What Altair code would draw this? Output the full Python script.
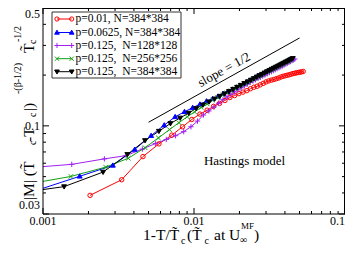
import altair as alt
import pandas as pd

# ---------------- data ----------------
series = ["p=0.01, N=384*384", "p=0.0625, N=384*384", "p=0.125,\u00a0\u00a0N=128*128",
          "p=0.125,\u00a0\u00a0N=256*256", "p=0.125,\u00a0\u00a0N=384*384"]
colors = ["#ff0000", "#0000ff", "#a020f0", "#10a010", "#000000"]
fills = ["transparent", "#0000ff", "#a020f0", "#10a010", "#000000"]
shapes = ["circle", "M0,-1.1L1.1,0.8L-1.1,0.8Z", "M-1.2,0L1.2,0M0,-1.2L0,1.2",
          "M-1,-1L1,1M-1,1L1,-1", "M0,1.1L1.1,-0.8L-1.1,-0.8Z"]

red_x = [0.00205, 0.00332, 0.00459, 0.00586, 0.00713, 0.0084, 0.00967, 0.01094, 0.01221, 0.01348,
         0.01475, 0.01602, 0.01729, 0.01856, 0.01983, 0.0211, 0.02237, 0.02364, 0.02491, 0.02618,
         0.02745, 0.02872, 0.02999, 0.03126, 0.03253, 0.0338, 0.03507, 0.03634, 0.03761, 0.03888,
         0.04015, 0.04142, 0.04269, 0.04396, 0.04523, 0.0465, 0.04777, 0.04904, 0.05031, 0.05158, 0.05285]
red_y = [0.0387, 0.0479, 0.0657, 0.0782, 0.0881, 0.0987, 0.1091, 0.1174, 0.1238, 0.1305,
         0.1359, 0.1414, 0.1472, 0.1512, 0.1553, 0.1585, 0.1617, 0.1660, 0.1694, 0.1717,
         0.1751, 0.1786, 0.1822, 0.1847, 0.1867, 0.1884, 0.1904, 0.1922, 0.1948, 0.1967,
         0.1982, 0.1995, 0.2009, 0.2025, 0.2041, 0.2052, 0.2063, 0.2074, 0.2082, 0.2091, 0.2102]

blue_x = [0.0006, 0.00175, 0.0029, 0.00405, 0.0052, 0.00635, 0.0075, 0.00865, 0.0098, 0.01095,
          0.0121, 0.01325, 0.0144, 0.01555, 0.0167, 0.01785, 0.019, 0.02015, 0.0213, 0.02245,
          0.0236, 0.02475, 0.0259, 0.02705, 0.0282, 0.02935, 0.0305, 0.03165, 0.0328, 0.03395,
          0.0351, 0.03625, 0.0374, 0.03855, 0.0397, 0.04085, 0.042, 0.04315, 0.0443]
blue_y = [0.0367, 0.0502, 0.0583, 0.0724, 0.0875, 0.1010, 0.1131, 0.1212, 0.1282, 0.1343,
          0.1402, 0.1445, 0.1496, 0.1549, 0.1593, 0.1638, 0.1684, 0.1732, 0.1777, 0.1820,
          0.1864, 0.1904, 0.1945, 0.1985, 0.2022, 0.2060, 0.2099, 0.2136, 0.2170, 0.2205,
          0.2240, 0.2274, 0.2307, 0.2341, 0.2373, 0.2405, 0.2434, 0.2466, 0.2496]

purple_x = [0.00055, 0.00155, 0.00255, 0.00355, 0.00455, 0.00555, 0.00655, 0.00755, 0.00855, 0.00955,
            0.01055, 0.01155, 0.01255, 0.01355, 0.01455, 0.01555, 0.01655, 0.01755, 0.01855, 0.01955,
            0.02055, 0.02155, 0.02255, 0.02355, 0.02455, 0.02555, 0.02655, 0.02755, 0.02855, 0.02955,
            0.03055, 0.03155, 0.03255, 0.03355, 0.03455, 0.03555, 0.03655, 0.03755, 0.03855, 0.03955,
            0.04055, 0.04155, 0.04255, 0.04355, 0.04455, 0.04555, 0.04655]
purple_y = [0.0549, 0.0591, 0.0637, 0.0666, 0.0728, 0.0785, 0.0830, 0.0874, 0.0924, 0.0988,
            0.1067, 0.1160, 0.1226, 0.1292, 0.1361, 0.1430, 0.1486, 0.1538, 0.1589, 0.1634,
            0.1680, 0.1725, 0.1769, 0.1812, 0.1846, 0.1879, 0.1912, 0.1945, 0.1977, 0.2006,
            0.2036, 0.2069, 0.2096, 0.2127, 0.2156, 0.2185, 0.2211, 0.2238, 0.2268, 0.2298,
            0.2326, 0.2354, 0.2382, 0.2408, 0.2437, 0.2463, 0.2490]

green_x = [0.00046, 0.00153, 0.0026, 0.00367, 0.00474, 0.00581, 0.00688, 0.00795, 0.00902, 0.01009,
           0.01116, 0.01223, 0.0133, 0.01437, 0.01544, 0.01651, 0.01758, 0.01865, 0.01972, 0.02079,
           0.02186, 0.02293, 0.024, 0.02507, 0.02614, 0.02721, 0.02828, 0.02935, 0.03042, 0.03149,
           0.03256, 0.03363, 0.0347, 0.03577, 0.03684, 0.03791, 0.03898, 0.04005, 0.04112, 0.04219,
           0.04326, 0.04433]
green_y = [0.0414, 0.0501, 0.0569, 0.0642, 0.0742, 0.0848, 0.0950, 0.1044, 0.1132, 0.1210,
           0.1286, 0.1348, 0.1420, 0.1472, 0.1522, 0.1570, 0.1617, 0.1660, 0.1705, 0.1746,
           0.1786, 0.1827, 0.1864, 0.1904, 0.1940, 0.1977, 0.2014, 0.2046, 0.2082, 0.2116,
           0.2148, 0.2182, 0.2214, 0.2244, 0.2274, 0.2305, 0.2336, 0.2363, 0.2395, 0.2424,
           0.2450, 0.2480]

black_x = [0.00026, 0.00138, 0.0025, 0.00362, 0.00474, 0.00586, 0.00698, 0.0081, 0.00922, 0.01034,
           0.01146, 0.01258, 0.0137, 0.01482, 0.01594, 0.01706, 0.01818, 0.0193, 0.02042, 0.02154,
           0.02266, 0.02378, 0.0249, 0.02602, 0.02714, 0.02826, 0.02938, 0.0305, 0.03162, 0.03274,
           0.03386, 0.03498, 0.0361, 0.03722, 0.03834, 0.03946, 0.04058, 0.0417, 0.04282, 0.04394, 0.04506]
black_y = [0.0354, 0.0436, 0.0532, 0.0677, 0.0819, 0.0930, 0.1033, 0.1114, 0.1191, 0.1268,
           0.1332, 0.1390, 0.1447, 0.1500, 0.1551, 0.1601, 0.1649, 0.1696, 0.1742, 0.1786,
           0.1827, 0.1869, 0.1909, 0.1951, 0.1990, 0.2025, 0.2063, 0.2099, 0.2133, 0.2170,
           0.2202, 0.2235, 0.2268, 0.2301, 0.2332, 0.2363, 0.2395, 0.2424, 0.2456, 0.2486, 0.2513]

x_major = [0.001, 0.01, 0.1]
x_major_labels = ["0.001", "0.01", "0.1"]
x_minor = [0.002, 0.003, 0.004, 0.005, 0.006, 0.007, 0.008, 0.009,
           0.02, 0.03, 0.04, 0.05, 0.06, 0.07, 0.08, 0.09]
y_major = [0.03, 0.1, 0.5]
y_major_labels = ["0.03", "0.1", "0.5"]
y_minor = [0.04, 0.05, 0.06, 0.07, 0.08, 0.09, 0.2, 0.3, 0.4]

slope_x = [0.005, 0.05]
slope_y = [0.105, 0.332]

# ---------------- build tables ----------------
rows = []
for name, xs, ys in zip(series, [red_x, blue_x, purple_x, green_x, black_x],
                        [red_y, blue_y, purple_y, green_y, black_y]):
    for a, b in zip(xs, ys):
        rows.append({"series": name, "x": a, "y": b})
df = pd.DataFrame(rows)
legend_df = pd.DataFrame({"series": series})
dummy = pd.DataFrame({"d": [0]})
xlab_df = pd.DataFrame({"x": x_major, "t": x_major_labels})
ylab_df = pd.DataFrame({"y": y_major, "t": y_major_labels})

SERIF = "Liberation Serif"
W, H = 302, 206

xsc = alt.Scale(type="log", domain=[0.001, 0.1], nice=False)
ysc = alt.Scale(type="log", domain=[0.03, 0.5], nice=False)
stroke_sc = alt.Scale(domain=series, range=colors)
fill_sc = alt.Scale(domain=series, range=fills)
shape_sc = alt.Scale(domain=series, range=shapes)


def X(f="x"):
    return alt.X(f"{f}:Q", scale=xsc, axis=None)


def Y(f="y"):
    return alt.Y(f"{f}:Q", scale=ysc, axis=None)


lines = alt.Chart(df).mark_line(strokeWidth=1, clip=True).encode(
    x=X(), y=Y(),
    stroke=alt.Stroke("series:N", scale=stroke_sc, legend=None),
)
points = alt.Chart(df).mark_point(size=20, strokeWidth=1, opacity=1, clip=True).encode(
    x=X(), y=Y(),
    stroke=alt.Stroke("series:N", scale=stroke_sc, legend=None),
    fill=alt.Fill("series:N", scale=fill_sc, legend=None),
    shape=alt.Shape("series:N", scale=shape_sc, legend=None),
)

# frame
frame = [
    alt.Chart(dummy).mark_rule(color="black", strokeWidth=1).encode(
        x=alt.value(0), x2=alt.value(W), y=alt.value(0.5)),
    alt.Chart(dummy).mark_rule(color="black", strokeWidth=1).encode(
        x=alt.value(0), x2=alt.value(W), y=alt.value(H)),
    alt.Chart(dummy).mark_rule(color="black", strokeWidth=1).encode(
        x=alt.value(0), y=alt.value(0), y2=alt.value(H)),
    alt.Chart(dummy).mark_rule(color="black", strokeWidth=1).encode(
        x=alt.value(W - 0.5), y=alt.value(0), y2=alt.value(H)),
]


def xticks(vals, y0, y1):
    return alt.Chart(pd.DataFrame({"x": vals})).mark_rule(color="black", strokeWidth=1).encode(
        x=X(), y=alt.value(y0), y2=alt.value(y1))


def yticks(vals, x0, x1):
    return alt.Chart(pd.DataFrame({"y": vals})).mark_rule(color="black", strokeWidth=1).encode(
        y=Y(), x=alt.value(x0), x2=alt.value(x1))


ticks = [xticks(x_major, H, H - 6), xticks(x_minor, H, H - 3),
         xticks(x_major, 0, 6), xticks(x_minor, 0, 3),
         yticks(y_major, 0, 6), yticks(y_minor, 0, 3),
         yticks(y_major, W, W - 6), yticks(y_minor, W, W - 3)]

# tick labels, placed through the scales
x_labels = [
    alt.Chart(xlab_df).transform_filter(alt.datum.x == v).mark_text(
        font=SERIF, fontSize=12, color="black", baseline="top", align=al).encode(
        x=X(), y=alt.value(H + 2), text="t:N")
    for v, al in zip(x_major, ["center", "center", "right"])
]
y_labels = [
    alt.Chart(ylab_df).transform_filter(alt.datum.y == v).mark_text(
        font=SERIF, fontSize=12, color="black", align="right", baseline="middle", dy=d).encode(
        y=Y(), x=alt.value(-3), text="t:N")
    for v, d in zip(y_major, [-9, 0, 6])
]

slope = alt.Chart(pd.DataFrame({"x": [slope_x[0]], "x2": [slope_x[1]],
                                "y": [slope_y[0]], "y2": [slope_y[1]]})).mark_rule(
    color="black", strokeWidth=1).encode(x=X(), x2="x2:Q", y=Y(), y2="y2:Q")

notes = alt.Chart(pd.DataFrame({"x": [0.0158, 0.0216], "y": [0.215, 0.0619],
                                "t": ["slope = 1/2", "Hastings model"],
                                "a": [331, 0]})).mark_text(
    font=SERIF, fontSize=13, color="black").encode(
    x=X(), y=Y(), text="t:N", angle=alt.Angle("a:Q", scale=None))

# ---------------- legend (one row per series) ----------------
leg_box = alt.Chart(dummy).mark_rect(fill="white", stroke="#333333", strokeWidth=1).encode(
    x=alt.value(9), x2=alt.value(138), y=alt.value(4), y2=alt.value(70))
legend_layers = [leg_box]
row_y = [11.0, 24.5, 37.5, 50.7, 63.7]
for name, ry in zip(series, row_y):
    src = alt.Chart(legend_df).transform_filter(alt.datum.series == name)
    legend_layers.append(src.mark_rule(strokeWidth=1).encode(
        x=alt.value(14), x2=alt.value(28.7), y=alt.value(ry),
        stroke=alt.Stroke("series:N", scale=stroke_sc, legend=None)))
    for mx in (14, 28.7):
        legend_layers.append(src.mark_point(size=18, strokeWidth=1, opacity=1).encode(
            x=alt.value(mx), y=alt.value(ry),
            stroke=alt.Stroke("series:N", scale=stroke_sc, legend=None),
            fill=alt.Fill("series:N", scale=fill_sc, legend=None),
            shape=alt.Shape("series:N", scale=shape_sc, legend=None)))
    legend_layers.append(src.mark_text(font=SERIF, fontSize=11.5, align="left",
                                       baseline="middle", color="black").encode(
        x=alt.value(32.5), y=alt.value(ry), text="series:N"))

# ---------------- axis titles (pieces with sub/superscripts) ----------------
title_pieces = [
    # x title
    ("1-T/T\u0303", 100, 232, 15.5, 0),
    ("c", 138, 235.5, 10, 0),
    ("(T\u0303", 144, 232, 15.5, 0),
    ("c", 161.5, 235.5, 10, 0),
    ("at U", 171, 232, 15.5, 0),
    ("\u221e", 197, 235, 10, 0),
    ("MF", 198, 220.5, 9, 0),
    (")", 211, 232, 15.5, 0),
    # y title
    ("|M| (T\u0303", -9.5, 192, 15.5, 270),
    ("c", -7, 137, 10, 270),
    ("-T", -9.5, 134, 15.5, 270),
    ("c", -7, 109, 10, 270),
    ("|)", -9.5, 103, 15.5, 270),
    ("-(\u03b2-1/2)", -22, 86, 10, 270),
    ("T\u0303", -9.5, 45, 15.5, 270),
    ("c", -7, 36, 10, 270),
    ("-1/2", -22, 34, 10, 270),
]
title_layers = [
    alt.Chart(dummy).mark_text(text=t, font=SERIF, fontSize=s, angle=a, align="left",
                               baseline="alphabetic", color="black").encode(
        x=alt.value(px), y=alt.value(py))
    for (t, px, py, s, a) in title_pieces
]

chart = alt.layer(
    lines, points, *frame, *ticks, *x_labels, *y_labels, slope, notes, *legend_layers, *title_layers
).properties(
    width=W, height=H,
    padding={"left": 35, "top": 0, "right": 0, "bottom": 30},
    autosize=alt.AutoSizeParams(type="none"),
).configure_view(stroke=None)

chart.save("out.html", embed_options={"renderer": "svg", "actions": False})
